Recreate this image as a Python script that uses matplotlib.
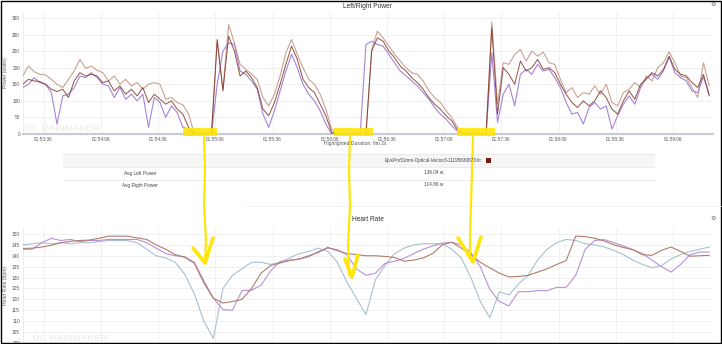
import matplotlib.pyplot as plt
import matplotlib.patches as mpatches
from matplotlib.ticker import FuncFormatter, FixedLocator
import numpy as np

plt.rcParams['font.family'] = ['Liberation Sans', 'DejaVu Sans']

# ride clock starts at 01:53:25, everything below is seconds from there
start_clock = 1 * 3600 + 53 * 60 + 25
tick_secs = [11, 41, 71, 101, 131, 161, 191, 221, 251, 281, 311, 341]

# power, one sample every 3 s
power_t = list(range(0, 361, 3))
power_tan = [175, 205, 188, 180, 178, 165, 150, 140, 165, 190, 225, 198, 205, 192, 185, 160,
             175, 150, 165, 145, 155, 135, 150, 155, 150, 105, 110, 95, 88, 60, 0, 0,
             0, 0, 280, 135, 330, 275, 210, 195, 180, 165, 110, 85, 120, 175, 245, 285,
             240, 200, 165, 150, 120, 75, 15, 0, 0, 0, 0, 0, 0, 255, 310, 290,
             265, 240, 220, 200, 185, 180, 160, 130, 110, 95, 70, 50, 20, 0, 0, 0,
             0, 0, 338, 90, 215, 210, 240, 255, 220, 250, 235, 247, 215, 210, 165, 125,
             140, 110, 125, 120, 145, 120, 150, 95, 85, 125, 135, 155, 140, 175, 160, 200,
             215, 248, 215, 175, 170, 140, 110, 215, 145]
power_brown = [150, 165, 160, 158, 150, 135, 128, 135, 110, 160, 185, 175, 180, 175, 155, 160,
               130, 145, 120, 135, 115, 140, 95, 120, 105, 90, 100, 75, 60, 20, 0, 0,
               0, 0, 285, 130, 295, 250, 175, 190, 170, 140, 75, 55, 95, 150, 210, 265,
               225, 165, 140, 125, 90, 55, 5, 0, 0, 0, 0, 0, 0, 250, 290, 280,
               250, 230, 205, 190, 170, 155, 135, 110, 90, 75, 55, 40, 12, 0, 0, 0,
               0, 0, 320, 60, 200, 180, 150, 220, 190, 200, 225, 195, 200, 185, 150, 120,
               95, 80, 100, 85, 100, 130, 110, 75, 60, 100, 130, 105, 150, 165, 185, 175,
               195, 235, 195, 180, 175, 155, 140, 180, 115]
power_purple = [140, 150, 170, 155, 150, 125, 30, 115, 120, 140, 175, 170, 185, 170, 150, 145,
                110, 140, 105, 120, 100, 120, 20, 110, 95, 50, 85, 65, 20, 15, 0, 0,
                0, 0, 150, 250, 275, 270, 190, 180, 160, 135, 60, 20, 70, 130, 190, 240,
                200, 150, 120, 100, 70, 30, 0, 0, 0, 0, 0, 0, 270, 280, 270, 265,
                240, 215, 190, 175, 160, 145, 125, 105, 80, 60, 45, 25, 8, 0, 0, 0,
                0, 0, 245, 35, 120, 150, 85, 180, 195, 180, 210, 190, 195, 170, 140, 95,
                60, 65, 30, 80, 95, 75, 85, 15, 55, 90, 115, 90, 140, 170, 180, 165,
                190, 232, 185, 170, 160, 130, 125, 172, 120]

# heart rate, one sample every 5 s
hr_t = list(range(0, 361, 5))
hr_blue = [145, 145.5, 146, 145.5, 146, 145.5, 146, 146, 146.5, 147, 147, 147, 146, 143, 140, 139,
           137, 131.5, 122.5, 110, 102, 125, 131, 134, 137, 137, 136, 137, 139, 141, 142, 143.5,
           142, 137, 128, 120.5, 113, 129, 135.5, 141, 143.5, 145, 145.5, 145.5, 145.5, 143, 139, 130,
           119, 111.5, 123.5, 122, 127, 131, 138, 143, 146, 147.5, 147, 145.5, 145, 144, 142.5, 140.5,
           138, 136, 134.5, 135.5, 138.5, 140.5, 142, 143, 144]
hr_purple = [143, 143, 146, 148, 147, 147.5, 146.5, 147, 147, 147.5, 147.5, 147.5, 147.5, 146, 143.5, 141,
             140, 139.5, 137, 128.5, 120.5, 115.3, 115, 124, 124.2, 126.5, 133, 137.4, 138, 138.5, 139.5, 142,
             143.5, 142.8, 140.5, 134, 131, 132, 136.5, 137.5, 138.8, 141, 143, 144.5, 145.8, 146.2, 145, 141.5,
             135, 124.5, 119, 117, 123.5, 123.5, 124, 124, 125.5, 125.5, 131, 143, 147, 147.4, 146, 144.5,
             142.8, 141, 138, 135, 132.5, 136, 140.5, 141.7, 141.7]
hr_brown = [143.3, 143.5, 144, 144.8, 146, 146.6, 147, 147.2, 148, 149, 149, 149, 148.2, 147.5, 145, 143,
            140.5, 139.3, 136.5, 127.5, 120.5, 118.3, 119, 120, 125, 132, 135.5, 136.7, 137.8, 138.5, 140, 141.5,
            143.9, 142.3, 141, 140.5, 140, 140, 139.7, 139.2, 137.5, 138, 139, 141, 145, 146.2, 143.5, 140.5,
            137, 134.4, 132, 130.3, 130.5, 131, 132.5, 134, 136, 137.8, 149, 148.8, 148, 146.8, 145, 143.8,
            142.8, 140.5, 140.2, 142.5, 144, 142, 139.8, 140, 140.2]

# stopped stretches marked by hand on the power chart
stop_spans = [(84, 102), (163.5, 183.5), (227.5, 247.5)]

file_name = "EpixPro51mm-Optical-Vector3-11195830873.fit"
table_rows = [("Avg Left Power", "136.04 w"), ("Avg Right Power", "114.86 w")]
highlight_text = "Highlighted Duration: 6m 2s"

c_tan = '#c9a294'
c_brown = '#7d3527'
c_purple = '#a684d6'
hr_c_blue = '#a9c0d0'
hr_c_purple = '#b890d8'
hr_c_brown = '#b07d6c'
yellow = '#ffe60a'

W, H = 722, 344
fig = plt.figure(figsize=(W / 100, H / 100), dpi=100)
fig.patch.set_facecolor('white')


def clock(x, pos=None):
    s = int(round(x)) + start_clock
    return '%02d:%02d:%02d' % (s // 3600, s % 3600 // 60, s % 60)


def box(x0, y0, x1, y1):
    # pixel box (top-left origin) -> figure fraction rect
    return [x0 / W, 1 - y1 / H, (x1 - x0) / W, (y1 - y0) / H]


def style(ax, yticks):
    ax.set_xlim(0, 362)
    ax.xaxis.set_major_locator(FixedLocator(tick_secs))
    ax.xaxis.set_major_formatter(FuncFormatter(clock))
    ax.set_yticks(yticks)
    ax.grid(True, color='#efefef', lw=0.6)
    ax.set_axisbelow(True)
    for s in ['top', 'right']:
        ax.spines[s].set_visible(False)
    ax.spines['left'].set_color('#e6e6e6')
    ax.spines['left'].set_linewidth(0.5)
    ax.spines['bottom'].set_color('#c8ccd4')
    ax.spines['bottom'].set_linewidth(1.6)
    ax.tick_params(length=0, labelsize=3.4, labelcolor='#555555', pad=2)


# power chart
ax1 = fig.add_axes(box(22.7, 12, 713, 134))
style(ax1, range(0, 351, 50))
ax1.set_ylim(0, 368)
ax1.text(0.004, 0.005, 'DC RAINMAKER', transform=ax1.transAxes, fontsize=6.8, fontweight='bold',
         color='#efefef', va='bottom', ha='left', zorder=0)
ax1.plot(power_t, power_tan, color=c_tan, lw=0.8, zorder=3)
ax1.plot(power_t, power_purple, color=c_purple, lw=0.8, zorder=4)
ax1.plot(power_t, power_brown, color=c_brown, lw=0.7, alpha=0.85, zorder=5)
ax1.set_ylabel('Power (watts)', fontsize=3.6, color='#666666', labelpad=3)
ax1.set_title('Left/Right Power', fontsize=4.8, color='#333333', pad=3)
for a, b in stop_spans:
    ax1.add_patch(mpatches.Rectangle((a, -6), b - a, 24, facecolor=yellow, edgecolor='none',
                                     alpha=0.9, clip_on=False, zorder=6))

# heart rate chart, its time labels fall below the visible area
ax2 = fig.add_axes(box(22.7, 227, 713, 344))
style(ax2, range(100, 151, 5))
ax2.tick_params(axis='x', labelbottom=False)
ax2.set_ylim(99.5, 153.2)
ax2.text(0.015, 0.012, 'DC RAINMAKER', transform=ax2.transAxes, fontsize=6.8, fontweight='bold',
         color='#efefef', va='bottom', ha='left', zorder=0)
ax2.plot(hr_t, hr_blue, color=hr_c_blue, lw=0.8, zorder=3)
ax2.plot(hr_t, hr_purple, color=hr_c_purple, lw=0.8, zorder=4)
ax2.plot(hr_t, hr_brown, color=hr_c_brown, lw=0.8, zorder=5)
ax2.set_ylabel('Heart Rate (bpm)', fontsize=3.6, color='#666666', labelpad=3)
ax2.set_title('Heart Rate', fontsize=4.8, color='#333333', pad=4.5)

# overlay in pixel units for the table, notes and frame
ov = fig.add_axes([0, 0, 1, 1], zorder=10)
ov.set_xlim(0, W)
ov.set_ylim(H, 0)
ov.axis('off')

ov.text(355, 143, highlight_text, fontsize=3.6, color='#555555', ha='center', va='center')
ov.add_patch(mpatches.Rectangle((63, 154), 592, 13, facecolor='#f6f6f6', edgecolor='none'))
for y in [154, 167, 179.5]:
    ov.plot([63, 655], [y, y], color='#e4e4e4', lw=0.5)
ov.plot([245, 722], [206, 206], color='#ededed', lw=0.5)
ov.text(433, 160.5, file_name, fontsize=3.3, color='#444444', ha='center', va='center')
ov.add_patch(mpatches.Rectangle((486, 157.5), 5, 5, facecolor='#7a1a0e', edgecolor='none'))
for i, (name, val) in enumerate(table_rows):
    y = 173 + i * 12
    ov.text(140, y, name, fontsize=3.4, color='#444444', ha='center', va='center')
    ov.text(434, y, val, fontsize=3.4, color='#444444', ha='center', va='center')

for y in [5, 219]:
    ov.text(713, y, '\u2699', family='DejaVu Sans', fontsize=4.5, color='#666666',
            ha='center', va='center')

# hand drawn arrows from the stops down to the heart rate dips
arrows = [
    ([204, 205, 204, 206, 205], [137, 170, 205, 240, 262], [193, 205, 213], [248, 263, 238]),
    ([350, 349, 350, 348, 349], [137, 170, 205, 245, 275], [345, 352, 358], [259, 277, 255]),
    ([473, 472, 471, 470, 470], [137, 170, 205, 235, 258], [458, 473, 481], [238, 262, 237]),
]
for sx, sy, hx, hy in arrows:
    ov.plot(sx, sy, color=yellow, lw=1.6, solid_capstyle='round')
    ov.plot(hx, hy, color=yellow, lw=2.6, solid_capstyle='round', solid_joinstyle='round')

# screenshot frame
ov.add_patch(mpatches.Rectangle((0.5, 0.5), W - 1.5, H - 1.5, facecolor='none',
                                edgecolor='black', lw=1.0))

fig.savefig('out.png', dpi=100)
